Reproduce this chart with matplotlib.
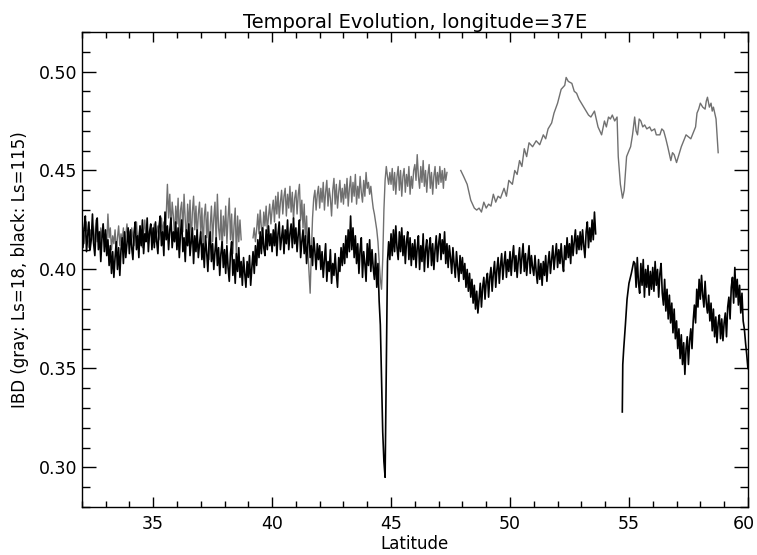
import numpy as np
import matplotlib
matplotlib.use("Agg")
from matplotlib import pyplot as plt
from matplotlib import transforms
from matplotlib.ticker import MultipleLocator, FormatStrFormatter

STEP = 0.05  # latitude sampling of the hand-read traces

# black trace (Ls=115): one row per degree, starting at that degree
black_rows_a = {
    32: [0.425, 0.411, 0.421, 0.427, 0.409, 0.417, 0.424, 0.410, 0.415, 0.428,
         0.413, 0.407, 0.420, 0.426, 0.410, 0.419, 0.404, 0.416, 0.423, 0.409],
    33: [0.420, 0.407, 0.415, 0.402, 0.412, 0.398, 0.409, 0.396, 0.406, 0.414,
         0.400, 0.411, 0.397, 0.410, 0.416, 0.403, 0.419, 0.406, 0.413, 0.421],
    34: [0.408, 0.420, 0.411, 0.405, 0.419, 0.424, 0.410, 0.417, 0.406, 0.422,
         0.412, 0.425, 0.408, 0.418, 0.414, 0.426, 0.409, 0.419, 0.423, 0.410],
    35: [0.421, 0.411, 0.424, 0.414, 0.408, 0.422, 0.427, 0.412, 0.419, 0.407,
         0.429, 0.415, 0.422, 0.410, 0.420, 0.426, 0.411, 0.419, 0.414, 0.424],
    36: [0.410, 0.421, 0.406, 0.418, 0.425, 0.409, 0.416, 0.404, 0.420, 0.412,
         0.423, 0.407, 0.414, 0.421, 0.403, 0.417, 0.409, 0.420, 0.406, 0.413],
    37: [0.419, 0.405, 0.413, 0.401, 0.417, 0.409, 0.399, 0.413, 0.419, 0.404,
         0.413, 0.400, 0.409, 0.416, 0.402, 0.411, 0.397, 0.408, 0.414, 0.401],
    38: [0.410, 0.398, 0.412, 0.401, 0.394, 0.408, 0.414, 0.397, 0.405, 0.393,
         0.408, 0.399, 0.411, 0.396, 0.404, 0.392, 0.406, 0.398, 0.391, 0.404],
    39: [0.396, 0.407, 0.392, 0.401, 0.409, 0.398, 0.412, 0.402, 0.415, 0.406,
         0.419, 0.408, 0.421, 0.411, 0.407, 0.420, 0.410, 0.422, 0.412, 0.418],
    40: [0.409, 0.420, 0.412, 0.423, 0.407, 0.418, 0.424, 0.410, 0.416, 0.422,
         0.408, 0.420, 0.413, 0.425, 0.410, 0.418, 0.423, 0.411, 0.426, 0.413],
    41: [0.421, 0.409, 0.418, 0.425, 0.406, 0.414, 0.420, 0.408, 0.417, 0.403,
         0.413, 0.421, 0.406, 0.412, 0.402, 0.416, 0.409, 0.400, 0.413, 0.405],
    42: [0.412, 0.400, 0.409, 0.396, 0.405, 0.413, 0.394, 0.404, 0.399, 0.410,
         0.393, 0.403, 0.397, 0.408, 0.398, 0.391, 0.406, 0.399, 0.411, 0.402],
    43: [0.413, 0.403, 0.417, 0.406, 0.420, 0.409, 0.427, 0.410, 0.421, 0.406,
         0.417, 0.403, 0.413, 0.398, 0.410, 0.416, 0.396, 0.409, 0.403, 0.394],
    44: [0.413, 0.402, 0.415, 0.399, 0.410, 0.401, 0.395, 0.408, 0.391, 0.403,
         0.384, 0.372, 0.345, 0.318, 0.303, 0.295, 0.352, 0.404, 0.414, 0.405],
    45: [0.418, 0.407, 0.420, 0.409, 0.422, 0.411, 0.405, 0.419, 0.409, 0.421,
         0.407, 0.417, 0.403, 0.414, 0.419, 0.405, 0.416, 0.402, 0.413, 0.405],
    46: [0.415, 0.401, 0.411, 0.417, 0.400, 0.412, 0.404, 0.418, 0.399, 0.410,
         0.415, 0.401, 0.411, 0.416, 0.402, 0.413, 0.400, 0.410, 0.417, 0.404],
    47: [0.413, 0.418, 0.405, 0.415, 0.408, 0.419, 0.403, 0.413, 0.401, 0.412,
         0.406, 0.398, 0.411, 0.403, 0.396, 0.409, 0.401, 0.394, 0.407, 0.398],
    48: [0.406, 0.395, 0.403, 0.391, 0.400, 0.389, 0.398, 0.386, 0.395, 0.383,
         0.392, 0.380, 0.389, 0.378, 0.385, 0.393, 0.381, 0.391, 0.396, 0.385],
    49: [0.394, 0.398, 0.386, 0.396, 0.401, 0.389, 0.398, 0.404, 0.391, 0.400,
         0.406, 0.393, 0.402, 0.408, 0.395, 0.403, 0.409, 0.396, 0.405, 0.399],
    50: [0.409, 0.397, 0.406, 0.412, 0.399, 0.407, 0.396, 0.405, 0.411, 0.398,
         0.406, 0.413, 0.399, 0.408, 0.397, 0.405, 0.412, 0.398, 0.407, 0.401],
    51: [0.397, 0.407, 0.399, 0.393, 0.405, 0.395, 0.403, 0.392, 0.404, 0.397,
         0.407, 0.394, 0.403, 0.409, 0.398, 0.405, 0.412, 0.400, 0.407, 0.413],
    52: [0.401, 0.410, 0.403, 0.413, 0.404, 0.399, 0.412, 0.405, 0.416, 0.406,
         0.413, 0.403, 0.417, 0.407, 0.414, 0.420, 0.408, 0.417, 0.410, 0.419],
    53: [0.410, 0.420, 0.412, 0.406, 0.419, 0.424, 0.411, 0.421, 0.414, 0.425,
         0.415, 0.429, 0.418],
}

# black trace, second part: steep start, then rows from 55.25
black_start_lat = [54.72, 54.74, 54.78, 54.85, 54.92, 55.0, 55.1, 55.2]
black_start_ibd = [0.328, 0.352, 0.360, 0.372, 0.385, 0.393, 0.398, 0.404]
black_rows_b = {
    55.25: [0.403, 0.391, 0.406, 0.393, 0.388, 0.403, 0.392, 0.405, 0.386, 0.400,
            0.391, 0.402, 0.387, 0.399, 0.390],
    56: [0.401, 0.389, 0.404, 0.392, 0.400, 0.386, 0.398, 0.403, 0.388, 0.382,
         0.395, 0.379, 0.390, 0.375, 0.387, 0.373, 0.383, 0.368, 0.380, 0.365],
    57: [0.374, 0.360, 0.370, 0.355, 0.367, 0.352, 0.363, 0.347, 0.360, 0.366,
         0.352, 0.364, 0.370, 0.360, 0.374, 0.382, 0.373, 0.390, 0.381, 0.395],
    58: [0.385, 0.397, 0.387, 0.381, 0.394, 0.383, 0.378, 0.387, 0.374, 0.383,
         0.369, 0.380, 0.366, 0.376, 0.363, 0.373, 0.377, 0.365, 0.375, 0.364],
    59: [0.373, 0.378, 0.366, 0.381, 0.386, 0.375, 0.391, 0.396, 0.383, 0.401,
         0.386, 0.395, 0.382, 0.392, 0.378, 0.388, 0.374, 0.370, 0.363, 0.357,
         0.350],
}

# gray trace (Ls=18)
gray_rows_a = {
    32: [0.416, 0.421, 0.413, 0.419, 0.424, 0.415, 0.411, 0.420, 0.417, 0.422,
         0.413, 0.418, 0.425, 0.414, 0.419, 0.412, 0.421, 0.416, 0.423, 0.414],
    33: [0.418, 0.412, 0.428, 0.416, 0.421, 0.410, 0.417, 0.413, 0.420, 0.409,
         0.416, 0.422, 0.412, 0.418, 0.414, 0.421, 0.411, 0.417, 0.423, 0.415],
    34: [0.419, 0.413, 0.421, 0.416, 0.412, 0.420, 0.424, 0.414, 0.418, 0.422,
         0.415, 0.411, 0.419, 0.425, 0.416, 0.420, 0.413, 0.418, 0.421, 0.415],
    35: [0.419, 0.423, 0.414, 0.418, 0.422, 0.415, 0.420, 0.426, 0.418, 0.424,
         0.420, 0.427, 0.443, 0.426, 0.438, 0.420, 0.434, 0.427, 0.416, 0.432],
    36: [0.423, 0.436, 0.415, 0.430, 0.434, 0.419, 0.438, 0.425, 0.414, 0.433,
         0.421, 0.435, 0.413, 0.429, 0.437, 0.420, 0.432, 0.416, 0.428, 0.434],
    37: [0.418, 0.431, 0.410, 0.427, 0.433, 0.416, 0.429, 0.405, 0.422, 0.432,
         0.414, 0.426, 0.434, 0.412, 0.438, 0.421, 0.415, 0.430, 0.409, 0.427],
    38: [0.417, 0.432, 0.413, 0.426, 0.436, 0.415, 0.428, 0.408, 0.422, 0.431,
         0.406, 0.427, 0.414, 0.425, 0.415],
}

gray_rows_b = {
    39.2: [0.416, 0.421, 0.414, 0.420, 0.428, 0.418, 0.430, 0.421, 0.417, 0.429,
           0.422, 0.432, 0.419, 0.427, 0.433, 0.423],
    40: [0.430, 0.435, 0.424, 0.437, 0.428, 0.439, 0.426, 0.434, 0.440, 0.428,
         0.437, 0.441, 0.427, 0.438, 0.431, 0.442, 0.429, 0.439, 0.425, 0.436],
    41: [0.440, 0.428, 0.438, 0.443, 0.425, 0.435, 0.421, 0.433, 0.414, 0.427,
         0.410, 0.399, 0.388, 0.409, 0.426, 0.436, 0.440, 0.430, 0.438, 0.442],
    42: [0.431, 0.441, 0.434, 0.444, 0.430, 0.439, 0.445, 0.432, 0.441, 0.436,
         0.427, 0.440, 0.446, 0.433, 0.443, 0.431, 0.439, 0.445, 0.434, 0.441],
    43: [0.433, 0.443, 0.436, 0.446, 0.432, 0.441, 0.447, 0.434, 0.444, 0.437,
         0.448, 0.433, 0.442, 0.436, 0.447, 0.439, 0.434, 0.445, 0.437, 0.449],
    44: [0.441, 0.444, 0.438, 0.442, 0.436, 0.431, 0.428, 0.424, 0.420, 0.414,
         0.404, 0.395, 0.390, 0.405, 0.430, 0.445, 0.452, 0.447, 0.443, 0.449],
    45: [0.443, 0.451, 0.440, 0.449, 0.438, 0.447, 0.452, 0.440, 0.450, 0.437,
         0.447, 0.451, 0.439, 0.448, 0.442, 0.452, 0.438, 0.447, 0.441, 0.450],
    46: [0.453, 0.445, 0.458, 0.447, 0.441, 0.452, 0.444, 0.455, 0.442, 0.450,
         0.439, 0.448, 0.453, 0.441, 0.449, 0.438, 0.447, 0.452, 0.441, 0.449],
    47: [0.443, 0.452, 0.444, 0.450, 0.441, 0.451, 0.445, 0.449],
}

gray_lat_c = [47.93, 48.05, 48.2, 48.35, 48.5, 48.6, 48.7, 48.8, 48.9, 49.0,
              49.1, 49.2, 49.3, 49.4, 49.5, 49.6, 49.75, 49.85, 49.95, 50.1,
              50.2, 50.3, 50.4, 50.5, 50.6, 50.7, 50.8, 50.95, 51.1, 51.25,
              51.4, 51.5, 51.6, 51.75, 51.85, 52.0, 52.15, 52.3, 52.36, 52.45,
              52.6, 52.7, 52.8, 52.9, 53.0, 53.1, 53.2, 53.3, 53.4, 53.55,
              53.7, 53.85, 53.97, 54.05, 54.14, 54.22, 54.3, 54.4, 54.5, 54.55,
              54.64, 54.73, 54.8, 54.9, 55.0, 55.07, 55.15, 55.24, 55.3, 55.36,
              55.43, 55.5, 55.58, 55.66, 55.75, 55.87, 55.95, 56.08, 56.15, 56.3,
              56.38, 56.46, 56.55, 56.63, 56.76, 56.83, 56.9, 57.0, 57.1, 57.2,
              57.3, 57.4, 57.5, 57.6, 57.7, 57.8, 57.86, 57.93, 58.0, 58.1,
              58.2, 58.25, 58.3, 58.38, 58.45, 58.5, 58.55, 58.66, 58.75]
gray_ibd_c = [0.450, 0.447, 0.443, 0.435, 0.431, 0.430, 0.431, 0.429, 0.434, 0.431,
              0.433, 0.432, 0.438, 0.434, 0.437, 0.436, 0.441, 0.437, 0.445, 0.443,
              0.450, 0.448, 0.455, 0.452, 0.461, 0.457, 0.464, 0.462, 0.465, 0.463,
              0.468, 0.466, 0.471, 0.474, 0.479, 0.484, 0.491, 0.493, 0.497, 0.495,
              0.494, 0.490, 0.489, 0.486, 0.484, 0.482, 0.480, 0.478, 0.477, 0.480,
              0.472, 0.468, 0.475, 0.472, 0.477, 0.476, 0.478, 0.475, 0.477, 0.457,
              0.443, 0.436, 0.440, 0.457, 0.460, 0.462, 0.468, 0.477, 0.470, 0.468,
              0.476, 0.475, 0.472, 0.473, 0.471, 0.472, 0.470, 0.471, 0.468, 0.468,
              0.471, 0.470, 0.466, 0.462, 0.455, 0.459, 0.458, 0.454, 0.458, 0.462,
              0.465, 0.468, 0.467, 0.466, 0.469, 0.472, 0.479, 0.481, 0.484, 0.482,
              0.481, 0.485, 0.487, 0.482, 0.484, 0.480, 0.482, 0.476, 0.459]


def unroll(rows):
    # each row starts at its key latitude and is sampled every STEP degrees
    lat, val = [], []
    for start, vals in rows.items():
        lat.extend(start + STEP * np.arange(len(vals)))
        val.extend(vals)
    return np.array(lat), np.array(val)


black_lat_a, black_ibd_a = unroll(black_rows_a)
black_lat_b, black_ibd_b = unroll(black_rows_b)
black_lat_b = np.concatenate([black_start_lat, black_lat_b])
black_ibd_b = np.concatenate([black_start_ibd, black_ibd_b])
gray_lat_a, gray_ibd_a = unroll(gray_rows_a)
gray_lat_b, gray_ibd_b = unroll(gray_rows_b)

fig = plt.figure(figsize=(7.57, 5.55), dpi=100)
ax = fig.add_axes([0.108, 0.0865, 0.880, 0.856])

gray = '#707070'
ax.plot(gray_lat_a, gray_ibd_a, color=gray, lw=1.0)
ax.plot(gray_lat_b, gray_ibd_b, color=gray, lw=1.0)
ax.plot(gray_lat_c, gray_ibd_c, color=gray, lw=1.0)
ax.plot(black_lat_a, black_ibd_a, color='black', lw=1.2)
ax.plot(black_lat_b, black_ibd_b, color='black', lw=1.2)

ax.set_xlim(32, 60)
ax.set_ylim(0.28, 0.52)
ax.xaxis.set_major_locator(MultipleLocator(5))
ax.xaxis.set_minor_locator(MultipleLocator(1))
ax.yaxis.set_major_locator(MultipleLocator(0.05))
ax.yaxis.set_minor_locator(MultipleLocator(0.01))
ax.yaxis.set_major_formatter(FormatStrFormatter('%.2f'))

ax.tick_params(axis='both', which='both', direction='in', top=True, right=True,
               labelsize=12.5, width=1)
ax.tick_params(axis='x', which='both', pad=6)
ax.tick_params(axis='y', which='both', pad=3)
ax.tick_params(axis='x', which='major', length=7)
ax.tick_params(axis='x', which='minor', length=4)
ax.tick_params(axis='y', which='major', length=10)
ax.tick_params(axis='y', which='minor', length=6)
for s in ax.spines.values():
    s.set_linewidth(1)

ax.set_xlabel('Latitude', fontsize=12, labelpad=1)
ax.set_ylabel('IBD (gray: Ls=18, black: Ls=115)', fontsize=12, labelpad=7)
ax.set_title('Temporal Evolution, longitude=37E', fontsize=14, pad=3)

# nudge the "60" label so it stays inside the image, as in the original
fig.canvas.draw()
shift = transforms.ScaledTranslation(-4 / 100, 0, fig.dpi_scale_trans)
for t in ax.xaxis.get_major_ticks():
    if abs(t.get_loc() - 60) < 1e-6:
        t.label1.set_transform(t.label1.get_transform() + shift)

fig.savefig('out.png', dpi=100)
